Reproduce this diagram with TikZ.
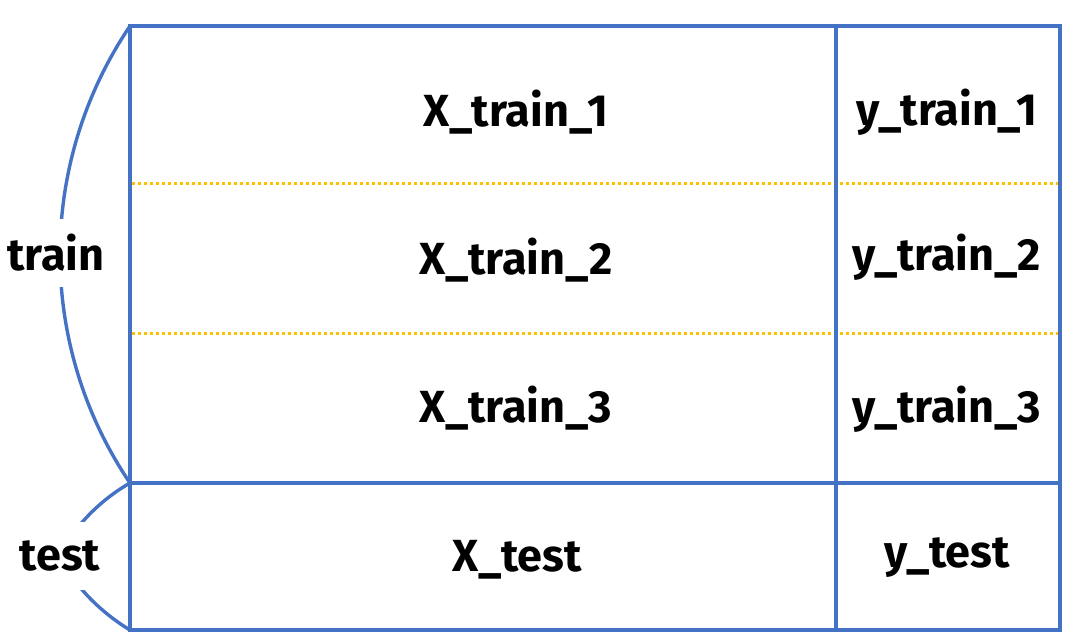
\documentclass[tikz,border=0pt]{standalone}
\usepackage{fontspec}
\setmainfont{Fira Sans}
\definecolor{bl}{HTML}{4472C4}
\definecolor{og}{HTML}{FFC000}
\begin{document}
\begin{tikzpicture}[x=1pt,y=-1pt,
  lbl/.style={font=\fontsize{45}{52}\selectfont\bfseries, inner sep=0pt},
  side/.style={lbl, fill=white, minimum height=68pt, inner xsep=1pt},
  frame/.style={draw=bl, line width=3.8pt},
  dots/.style={draw=og, line width=3pt, dash pattern=on 3pt off 3pt}]
\useasboundingbox (0,0) rectangle (1076,643);
% dotted separators
\draw[dots] (132,183) -- (1058,183);
\draw[dots] (132,333) -- (1058,333);
% frame
\draw[frame] (130,26) rectangle (1060,630);
\draw[frame] (836,26) -- (836,630);
\draw[frame] (130,483) -- (1060,483);
% brackets
\coordinate (tl) at (130,26);
\coordinate (ml) at (130,483);
\coordinate (bl) at (130,630);
\draw[frame, line width=3.4pt] (tl) arc[start angle=214.06, end angle=145.94, radius=408];
\draw[frame, line width=3.4pt] (ml) .. controls (100,500) and (70,530) .. (62,556)
  .. controls (70,582) and (100,612) .. (bl);
% labels
\node[side] (train) at (56,253) {train};
\node[side] (test) at (60,556) {test};
\node[lbl] (x1) at (516,112) {X\_train\_1};
\node[lbl] (x2) at (516,260) {X\_train\_2};
\node[lbl] (x3) at (516,408) {X\_train\_3};
\node[lbl] (xt) at (517,560) {X\_test};
\node[lbl] (y1) at (947,112) {y\_train\_1};
\node[lbl] (y2) at (947,257) {y\_train\_2};
\node[lbl] (y3) at (947,409) {y\_train\_3};
\node[lbl] (yt) at (947,558) {y\_test};
\end{tikzpicture}
\end{document}
